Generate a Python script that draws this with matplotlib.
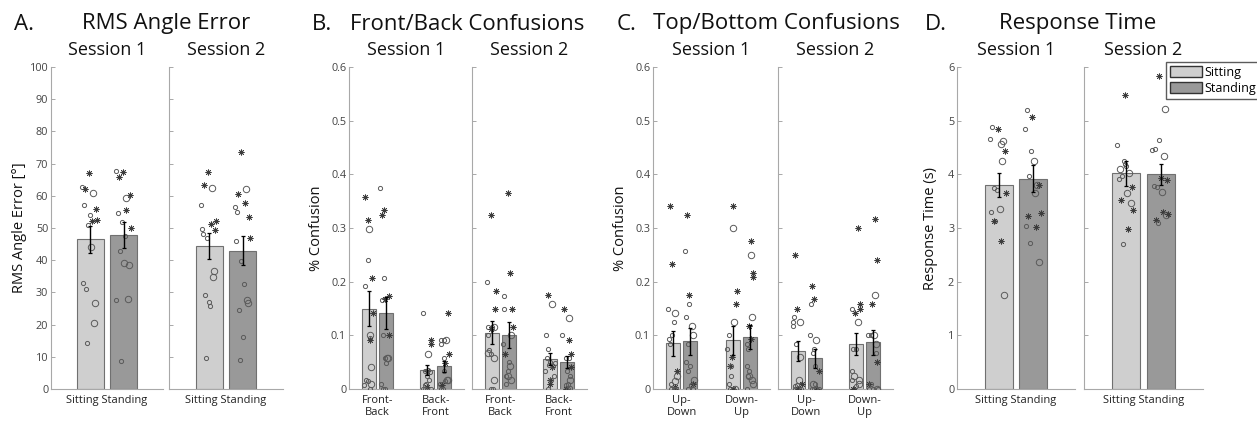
import numpy as np
import matplotlib.pyplot as plt
from matplotlib.patches import Patch

plt.rcParams['font.family'] = ['Open Sans', 'DejaVu Sans']

sessions = ['Session 1', 'Session 2']
postures = ['Sitting', 'Standing']
fb_groups = ['Front-\nBack', 'Back-\nFront']
tb_groups = ['Up-\nDown', 'Down-\nUp']

# marker codes: 'o' small open circle, 'O' large open circle, '*' asterisk
# dx = horizontal jitter as a fraction of the bar width

# ---------------- A. RMS angle error ----------------
rms_mean = [[46.5, 47.8], [44.5, 43.0]]
rms_err = [[4.2, 4.1], [4.0, 4.6]]

rms_s1_sit = [67.0, 62.6, 62.2, 61.0, 57.0, 56.0, 54.0, 52.2, 52.6, 50.9, 44.0, 32.8, 31.0, 26.8, 20.6, 14.2]
rms_s1_sit_dx = [-0.04, -0.31, -0.19, 0.10, -0.23, 0.22, 0.0, 0.07, 0.25, -0.08, 0.02, -0.27, -0.15, 0.18, 0.13, -0.12]
rms_s1_sit_mk = '*o*Oo*o**oOooOOo'

rms_s1_std = [67.8, 67.3, 65.8, 60.3, 59.4, 55.6, 54.6, 51.8, 49.9, 47.4, 42.9, 39.0, 38.6, 27.7, 27.8, 8.8]
rms_s1_std_dx = [-0.30, -0.04, -0.18, 0.22, 0.10, 0.07, -0.23, -0.08, 0.27, 0.03, -0.15, 0.0, 0.18, -0.28, 0.14, -0.10]
rms_s1_std_mk = 'o***O*oo*ooOOoOo'

rms_s2_sit = [67.5, 63.2, 62.3, 57.2, 52.3, 51.2, 49.7, 49.5, 48.1, 47.0, 36.7, 34.9, 29.2, 26.9, 25.9, 9.6]
rms_s2_sit_dx = [-0.04, -0.18, 0.09, -0.31, 0.25, 0.07, -0.27, 0.22, -0.22, -0.07, 0.18, 0.14, -0.15, -0.02, 0.03, -0.12]
rms_s2_sit_mk = '**Oo**o*ooOOoooo'

rms_s2_std = [73.7, 62.2, 60.7, 57.7, 56.4, 55.0, 53.3, 47.0, 46.0, 39.9, 32.6, 27.5, 26.8, 24.4, 16.1, 8.9]
rms_s2_std_dx = [-0.05, 0.11, -0.19, 0.07, -0.28, -0.22, 0.22, 0.26, -0.26, -0.06, 0.04, 0.14, 0.19, -0.15, 0.0, -0.11]
rms_s2_std_mk = '*O**oo**oooOOooo'

# ---------------- B. Front/Back confusions ----------------
fbc_mean = [[[0.150, 0.142], [0.036, 0.042]], [[0.105, 0.100], [0.056, 0.051]]]
fbc_err = [[[0.033, 0.030], [0.009, 0.011]], [[0.021, 0.024], [0.011, 0.011]]]

fbc_s1_fb_sit = [0.357, 0.315, 0.299, 0.241, 0.207, 0.191, 0.141, 0.100, 0.095, 0.092, 0.041, 0.016, 0.014, 0.009, 0.008, 0.0]
fbc_s1_fb_sit_dx = [-0.28, -0.04, 0.01, -0.08, 0.23, -0.25, 0.30, 0.13, 0.08, 0.06, 0.16, -0.16, -0.06, 0.18, -0.30, 0.06]
fbc_s1_fb_sit_mk = '**Oo*o*Oo*OooOoo'

fbc_s1_fb_std = [0.374, 0.333, 0.324, 0.207, 0.173, 0.166, 0.168, 0.100, 0.100, 0.058, 0.058, 0.058, 0.049, 0.009, 0.0, 0.0]
fbc_s1_fb_std_dx = [-0.39, -0.10, -0.27, -0.12, 0.24, -0.29, -0.02, 0.22, -0.17, 0.07, -0.02, 0.17, 0.0, -0.36, -0.17, -0.05]
fbc_s1_fb_std_mk = 'o**o*o**oOoOoooo'

fbc_s1_bf_sit = [0.141, 0.091, 0.083, 0.066, 0.034, 0.033, 0.035, 0.032, 0.025, 0.009, 0.007, 0.003, 0.0, 0.0, 0.016, 0.0]
fbc_s1_bf_sit_dx = [-0.28, 0.28, 0.23, 0.08, -0.04, -0.18, 0.06, 0.18, -0.01, -0.11, -0.20, 0.01, -0.13, 0.25, 0.13, -0.30]
fbc_s1_bf_sit_mk = 'o**O*oooooo*oooo'

fbc_s1_bf_std = [0.141, 0.091, 0.091, 0.092, 0.083, 0.066, 0.058, 0.049, 0.033, 0.016, 0.015, 0.009, 0.007, 0.0, 0.0, 0.017]
fbc_s1_bf_std_dx = [0.23, -0.25, -0.01, 0.13, -0.25, 0.30, -0.04, 0.04, 0.01, 0.18, 0.04, -0.30, -0.18, -0.25, -0.08, 0.28]
fbc_s1_bf_std_mk = '*ooOo*o*oOoo*ooO'

fbc_s2_fb_sit = [0.325, 0.199, 0.183, 0.150, 0.116, 0.116, 0.116, 0.111, 0.100, 0.073, 0.066, 0.067, 0.058, 0.016, 0.0, 0.0]
fbc_s2_fb_sit_dx = [-0.04, -0.35, 0.30, 0.23, -0.01, 0.16, -0.23, -0.04, -0.28, -0.16, -0.04, -0.23, 0.20, 0.16, -0.08, 0.06]
fbc_s2_fb_sit_mk = '*o**oOo*oooOOOoo'

fbc_s2_fb_std = [0.365, 0.216, 0.174, 0.150, 0.150, 0.115, 0.100, 0.083, 0.066, 0.050, 0.042, 0.033, 0.025, 0.024, 0.017, 0.009]
fbc_s2_fb_std_dx = [-0.06, 0.06, -0.30, -0.30, 0.23, 0.28, 0.13, -0.37, -0.25, 0.04, 0.11, -0.04, -0.20, -0.08, 0.18, -0.18]
fbc_s2_fb_std_mk = '**oo**Oo*oOooOOo'

fbc_s2_bf_sit = [0.175, 0.158, 0.100, 0.075, 0.058, 0.050, 0.049, 0.041, 0.033, 0.042, 0.025, 0.016, 0.016, 0.009, 0.0, 0.045]
fbc_s2_bf_sit_dx = [-0.20, 0.11, -0.30, -0.13, -0.25, 0.0, 0.30, 0.13, -0.35, 0.20, 0.23, -0.04, 0.04, 0.01, -0.13, -0.08]
fbc_s2_bf_sit_mk = '*Oooooo*ooo*o*oo'

fbc_s2_bf_std = [0.150, 0.133, 0.100, 0.092, 0.066, 0.058, 0.058, 0.041, 0.033, 0.025, 0.017, 0.009, 0.007, 0.0, 0.0, 0.002]
fbc_s2_bf_std_dx = [-0.22, 0.14, -0.36, 0.10, 0.29, -0.12, 0.10, 0.24, -0.02, 0.17, 0.17, 0.05, -0.12, -0.07, 0.05, 0.19]
fbc_s2_bf_std_mk = '*Oo**oo*ooOoo*oo'

# ---------------- C. Top/Bottom confusions ----------------
tbc_mean = [[[0.085, 0.089], [0.091, 0.097]], [[0.071, 0.057], [0.084, 0.087]]]
tbc_err = [[[0.024, 0.025], [0.027, 0.023]], [[0.018, 0.017], [0.021, 0.023]]]

tbc_s1_ud_sit = [0.341, 0.233, 0.150, 0.142, 0.125, 0.100, 0.093, 0.083, 0.033, 0.025, 0.015, 0.009, 0.004, 0.0, 0.0, 0.0]
tbc_s1_ud_sit_dx = [-0.21, -0.04, -0.33, 0.13, 0.04, -0.09, -0.26, -0.21, 0.28, 0.26, 0.16, -0.16, 0.11, -0.11, 0.06, 0.21]
tbc_s1_ud_sit_mk = '**oOoooo*OOo*ooo'

tbc_s1_ud_std = [0.325, 0.258, 0.175, 0.158, 0.134, 0.117, 0.100, 0.083, 0.050, 0.042, 0.033, 0.017, 0.009, 0.007, 0.0, 0.0]
tbc_s1_ud_std_dx = [-0.23, -0.38, -0.06, -0.11, -0.30, 0.13, 0.16, -0.16, -0.30, -0.04, -0.18, 0.26, 0.16, 0.04, -0.13, 0.21]
tbc_s1_ud_std_mk = '*o*ooOOooooO*ooo'

tbc_s1_du_sit = [0.341, 0.300, 0.183, 0.158, 0.125, 0.100, 0.075, 0.059, 0.042, 0.042, 0.025, 0.009, 0.0, 0.0, 0.0, 0.0]
tbc_s1_du_sit_dx = [0.05, 0.0, 0.29, 0.24, 0.10, -0.27, -0.37, -0.05, -0.17, -0.10, -0.10, -0.24, -0.20, 0.15, 0.0, 0.05]
tbc_s1_du_sit_mk = '*O**Ooo**ooooO*o'

tbc_s1_du_std = [0.275, 0.249, 0.217, 0.208, 0.134, 0.117, 0.093, 0.083, 0.075, 0.042, 0.033, 0.025, 0.025, 0.016, 0.009, 0.0]
tbc_s1_du_std_dx = [0.06, 0.04, 0.23, 0.20, 0.13, -0.04, 0.04, -0.18, -0.13, -0.18, -0.04, -0.04, -0.16, 0.16, 0.18, -0.20]
tbc_s1_du_std_mk = '*O**O**ooooOoOOo'

tbc_s2_ud_sit = [0.250, 0.150, 0.134, 0.125, 0.125, 0.117, 0.083, 0.059, 0.017, 0.009, 0.007, 0.0, 0.0, 0.0, 0.0, 0.005]
tbc_s2_ud_sit_dx = [-0.21, -0.04, -0.26, -0.30, 0.16, -0.33, -0.09, 0.18, 0.06, 0.28, -0.04, -0.18, 0.13, 0.0, 0.26, -0.16]
tbc_s2_ud_sit_mk = '**ooOooOO*ooo*oo'

tbc_s2_ud_std = [0.191, 0.167, 0.158, 0.100, 0.092, 0.074, 0.067, 0.033, 0.042, 0.009, 0.009, 0.0, 0.0, 0.0, 0.0, 0.0]
tbc_s2_ud_std_dx = [-0.22, -0.05, -0.24, -0.34, 0.12, -0.02, -0.15, 0.29, 0.05, -0.10, 0.05, -0.20, -0.02, 0.20, 0.29, 0.12]
tbc_s2_ud_std_mk = '**ooOoo*oOooo*oo'

tbc_s2_du_sit = [0.300, 0.158, 0.150, 0.150, 0.142, 0.125, 0.075, 0.075, 0.033, 0.025, 0.009, 0.017, 0.017, 0.005, 0.0, 0.0]
tbc_s2_du_sit_dx = [0.09, 0.25, 0.28, -0.33, -0.06, 0.13, -0.23, 0.01, -0.28, -0.13, 0.20, 0.16, -0.28, 0.01, -0.16, -0.23]
tbc_s2_du_sit_mk = '***o*OoooOOOooo*'

tbc_s2_du_std = [0.316, 0.241, 0.175, 0.158, 0.100, 0.100, 0.100, 0.050, 0.067, 0.083, 0.009, 0.009, 0.0, 0.0, 0.0, 0.0]
tbc_s2_du_std_dx = [0.10, 0.27, 0.15, -0.07, -0.37, 0.05, -0.15, 0.29, 0.20, 0.17, -0.29, -0.17, -0.05, 0.24, -0.34, 0.30]
tbc_s2_du_std_mk = '**O*oOo*oO*ooOoo'

# ---------------- D. Response time ----------------
rt_mean = [[3.80, 3.92], [4.02, 4.00]]
rt_err = [[0.22, 0.25], [0.23, 0.20]]

rt_s1_sit = [4.89, 4.84, 4.66, 4.63, 4.57, 4.43, 4.24, 3.75, 3.71, 3.65, 3.36, 3.29, 3.13, 3.13, 2.76, 1.75]
rt_s1_sit_dx = [-0.23, -0.04, -0.31, 0.14, 0.08, 0.23, 0.11, -0.17, -0.07, 0.27, 0.04, -0.27, -0.13, -0.17, 0.07, 0.18]
rt_s1_sit_mk = 'o*oOO*Ooo*Ooo**O'

rt_s1_std = [5.19, 5.06, 4.85, 4.44, 4.24, 3.97, 3.81, 3.80, 3.65, 3.22, 3.28, 3.03, 3.01, 2.72, 2.36]
rt_s1_std_dx = [-0.23, -0.04, -0.31, -0.07, 0.01, -0.15, 0.12, 0.21, 0.05, -0.19, 0.26, -0.26, 0.08, -0.11, 0.19]
rt_s1_std_mk = 'o*ooOoO*O**o*oO'

rt_s2_sit = [5.47, 4.54, 4.25, 4.20, 4.16, 4.10, 4.03, 3.96, 3.92, 3.77, 3.66, 3.46, 3.34, 3.53, 2.98, 2.71]
rt_s2_sit_dx = [-0.04, -0.31, -0.07, -0.02, 0.0, -0.21, 0.12, -0.14, -0.24, 0.23, 0.05, 0.19, 0.25, -0.19, 0.08, -0.12]
rt_s2_sit_mk = '*ooooOOoo*OO***o'

rt_s2_std = [5.84, 5.21, 4.64, 4.48, 4.45, 4.34, 3.93, 3.90, 3.79, 3.76, 3.68, 3.29, 3.24, 3.26, 3.14, 3.09]
rt_s2_std_dx = [-0.06, 0.15, -0.08, -0.21, -0.31, 0.12, 0.0, 0.21, -0.26, -0.14, 0.04, 0.08, 0.19, 0.26, -0.19, -0.11]
rt_s2_std_mk = '*OoooO**ooO*O**o'

# ---------------- drawing ----------------
W, H = 1257, 421
fig = plt.figure(figsize=(W / 100, H / 100), dpi=100)

LIGHT, DARK = '#cfcfcf', '#999999'
SPINE = '#a8a8a8'
AST = (8, 2, 0)


def px_axes(x0, x1, y0=67, y1=389):
    return fig.add_axes([x0 / W, 1 - y1 / H, (x1 - x0) / W, (y1 - y0) / H])


def style_ax(ax, ylim, yticks, first, title):
    ax.set_ylim(ylim)
    ax.set_yticks(yticks)
    ax.set_yticklabels([f'{t:g}' for t in yticks] if first else [])
    for s in ['top', 'right']:
        ax.spines[s].set_visible(False)
    for s in ['left', 'bottom']:
        ax.spines[s].set_color(SPINE)
        ax.spines[s].set_linewidth(0.8)
    ax.tick_params(axis='y', direction='in', length=3, width=0.7, color=SPINE,
                   labelsize=7.8, labelcolor='#444444', pad=2)
    ax.tick_params(axis='x', length=0, labelsize=8, labelcolor='#222222', pad=4)
    ax.text(0.5, 1 + 17 / 322, title, transform=ax.transAxes, ha='center',
            va='center', fontsize=13, color='#111111')


def draw_points(ax, xc, bw, vals, dx, mk):
    for v, d, m in zip(vals, dx, mk):
        x = xc + d * bw
        if m == '*':
            ax.plot(x, v, marker=AST, ms=4.3, mec='#3c3c3c', mew=0.55, ls='none', zorder=4)
        else:
            ax.plot(x, v, marker='o', ms=3 if m == 'o' else 4.6, mfc='none',
                    mec='#5a5a5a', mew=0.7, ls='none', zorder=4)


def bar_with_err(ax, x, h, e, bw, color):
    ax.bar(x, h, width=bw, color=color, edgecolor='#707070', linewidth=0.8, zorder=2)
    ax.errorbar(x, h, yerr=e, fmt='none', ecolor='black', elinewidth=1,
                capsize=1.6, capthick=0.9, zorder=5)


def simple_panel(ax, mean, err, pts, ylim, yticks, first, title, xlim):
    bw = 0.8
    for j in range(2):
        bar_with_err(ax, j, mean[j], err[j], bw, [LIGHT, DARK][j])
        draw_points(ax, j, bw, *pts[j])
    ax.set_xlim(xlim)
    # one label spanning both bars, as in the original figure
    ax.set_xticks([0.5])
    ax.set_xticklabels([' '.join(postures)])
    style_ax(ax, ylim, yticks, first, title)


def grouped_panel(ax, mean, err, pts, groups, ylim, yticks, first, title):
    bw, off = 0.24, 0.145
    for g in range(2):
        for j in range(2):
            xc = g + 1 + (2 * j - 1) * off
            bar_with_err(ax, xc, mean[g][j], err[g][j], bw, [LIGHT, DARK][j])
            draw_points(ax, xc, bw, *pts[g][j])
    ax.set_xlim(0.52, 2.48)
    ax.set_xticks([1, 2])
    ax.set_xticklabels(groups, linespacing=1.15)
    style_ax(ax, ylim, yticks, first, title)


def ylab(ax, text, xpix, x0):
    ax.text((xpix - x0) / (ax.get_position().width * W), 0.5, text,
            transform=ax.transAxes, rotation=90, ha='center', va='center',
            fontsize=10.5, color='#111111')


def panel_title(letter, lx, text, cx):
    fig.text(lx / W, 1 - 24 / H, letter, ha='left', va='center', fontsize=16, color='#111111')
    fig.text(cx / W, 1 - 24 / H, text, ha='center', va='center', fontsize=16, color='#111111')


# A
rms_ticks = list(range(0, 101, 10))
a1 = px_axes(51, 163)
simple_panel(a1, rms_mean[0], rms_err[0],
             [(rms_s1_sit, rms_s1_sit_dx, rms_s1_sit_mk), (rms_s1_std, rms_s1_std_dx, rms_s1_std_mk)],
             (0, 100), rms_ticks, True, sessions[0], (-1.17, 2.17))
a2 = px_axes(169, 283)
simple_panel(a2, rms_mean[1], rms_err[1],
             [(rms_s2_sit, rms_s2_sit_dx, rms_s2_sit_mk), (rms_s2_std, rms_s2_std_dx, rms_s2_std_mk)],
             (0, 100), rms_ticks, False, sessions[1], (-1.2, 2.2))
ylab(a1, 'RMS Angle Error [°]', 20, 51)
panel_title('A.', 14, 'RMS Angle Error', 166)

# B
conf_ticks = [0, 0.1, 0.2, 0.3, 0.4, 0.5, 0.6]
b1 = px_axes(349, 464)
grouped_panel(b1, fbc_mean[0], fbc_err[0],
              [[(fbc_s1_fb_sit, fbc_s1_fb_sit_dx, fbc_s1_fb_sit_mk), (fbc_s1_fb_std, fbc_s1_fb_std_dx, fbc_s1_fb_std_mk)],
               [(fbc_s1_bf_sit, fbc_s1_bf_sit_dx, fbc_s1_bf_sit_mk), (fbc_s1_bf_std, fbc_s1_bf_std_dx, fbc_s1_bf_std_mk)]],
              fb_groups, (0, 0.6), conf_ticks, True, sessions[0])
b2 = px_axes(472, 587)
grouped_panel(b2, fbc_mean[1], fbc_err[1],
              [[(fbc_s2_fb_sit, fbc_s2_fb_sit_dx, fbc_s2_fb_sit_mk), (fbc_s2_fb_std, fbc_s2_fb_std_dx, fbc_s2_fb_std_mk)],
               [(fbc_s2_bf_sit, fbc_s2_bf_sit_dx, fbc_s2_bf_sit_mk), (fbc_s2_bf_std, fbc_s2_bf_std_dx, fbc_s2_bf_std_mk)]],
              fb_groups, (0, 0.6), conf_ticks, False, sessions[1])
ylab(b1, '% Confusion', 317, 349)
panel_title('B.', 312, 'Front/Back Confusions', 467)

# C
c1 = px_axes(653, 770)
grouped_panel(c1, tbc_mean[0], tbc_err[0],
              [[(tbc_s1_ud_sit, tbc_s1_ud_sit_dx, tbc_s1_ud_sit_mk), (tbc_s1_ud_std, tbc_s1_ud_std_dx, tbc_s1_ud_std_mk)],
               [(tbc_s1_du_sit, tbc_s1_du_sit_dx, tbc_s1_du_sit_mk), (tbc_s1_du_std, tbc_s1_du_std_dx, tbc_s1_du_std_mk)]],
              tb_groups, (0, 0.6), conf_ticks, True, sessions[0])
c2 = px_axes(778, 893)
grouped_panel(c2, tbc_mean[1], tbc_err[1],
              [[(tbc_s2_ud_sit, tbc_s2_ud_sit_dx, tbc_s2_ud_sit_mk), (tbc_s2_ud_std, tbc_s2_ud_std_dx, tbc_s2_ud_std_mk)],
               [(tbc_s2_du_sit, tbc_s2_du_sit_dx, tbc_s2_du_sit_mk), (tbc_s2_du_std, tbc_s2_du_std_dx, tbc_s2_du_std_mk)]],
              tb_groups, (0, 0.6), conf_ticks, False, sessions[1])
ylab(c1, '% Confusion', 620, 653)
panel_title('C.', 617, 'Top/Bottom Confusions', 776)

# D
rt_ticks = [0, 1, 2, 3, 4, 5, 6]
d1 = px_axes(957, 1075)
simple_panel(d1, rt_mean[0], rt_err[0],
             [(rt_s1_sit, rt_s1_sit_dx, rt_s1_sit_mk), (rt_s1_std, rt_s1_std_dx, rt_s1_std_mk)],
             (0, 6), rt_ticks, True, sessions[0], (-1.2, 2.2))
d2 = px_axes(1084, 1203)
simple_panel(d2, rt_mean[1], rt_err[1],
             [(rt_s2_sit, rt_s2_sit_dx, rt_s2_sit_mk), (rt_s2_std, rt_s2_std_dx, rt_s2_std_mk)],
             (0, 6), rt_ticks, False, sessions[1], (-1.2, 2.2))
ylab(d1, 'Response Time (s)', 930, 957)
panel_title('D.', 925, 'Response Time', 1078)

handles = [Patch(facecolor=LIGHT, edgecolor='#333333', linewidth=1),
           Patch(facecolor=DARK, edgecolor='#333333', linewidth=1)]
leg = fig.legend(handles, postures, loc='upper left', bbox_to_anchor=(1166 / W, 1 - 62 / H),
                 borderaxespad=0, fontsize=9, frameon=True, fancybox=False,
                 handlelength=2.6, handleheight=1.0, handletextpad=0.2,
                 labelspacing=0.25, borderpad=0.3)
leg.get_frame().set_edgecolor('#333333')
leg.get_frame().set_linewidth(1)

fig.savefig('out.png', dpi=100)
